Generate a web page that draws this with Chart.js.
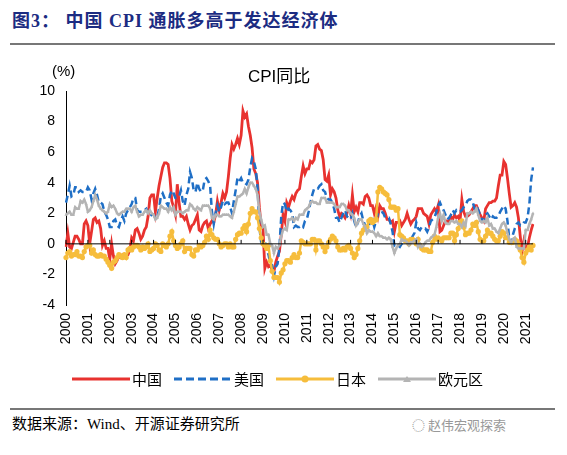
<!DOCTYPE html>
<html><head><meta charset="utf-8">
<script src="https://cdn.jsdelivr.net/npm/chart.js@4"></script>
<style>
body{margin:0;width:567px;height:455px;background:#fff;position:relative;overflow:hidden;font-family:"Liberation Sans",Arial,sans-serif}
#t{position:absolute;left:12px;top:6px;font:bold 18px "Liberation Serif","Noto Sans CJK SC";color:#1c2c82;letter-spacing:1px}
.rule{position:absolute;left:10px;width:545px;height:1.5px;background:#777}
#c{position:absolute;left:0;top:0}
.tx{position:absolute;font-size:15px;color:#000}
#lg{position:absolute;top:368px;left:70px;font:15px "Noto Sans CJK SC";display:flex;align-items:center}
#lg span{margin-right:10px}
#ft{position:absolute;left:12px;top:412px;font:15px "Liberation Serif","Noto Sans CJK SC"}
#wm{position:absolute;left:412px;top:415px;font:13px "Noto Sans CJK SC";color:#999}
</style></head><body>
<div id="t">图3：&nbsp;中国 CPI 通胀多高于发达经济体</div>
<div class="rule" style="top:43px"></div>
<canvas id="c" width="567" height="400" style="width:567px;height:400px"></canvas>
<div class="tx" style="left:52px;top:62px">(%)</div>
<div class="tx" style="left:248px;top:62px;font-size:17px;font-family:'Liberation Sans','Noto Sans CJK SC'">CPI同比</div>
<div id="lg">
<svg width="62" height="10"><line x1="2" y1="5" x2="60" y2="5" stroke="#e8322f" stroke-width="3"/></svg><span>中国</span>
<svg width="62" height="10"><line x1="2" y1="5" x2="60" y2="5" stroke="#1f6fc6" stroke-width="3" stroke-dasharray="8,4"/></svg><span>美国</span>
<svg width="62" height="10"><line x1="2" y1="5" x2="60" y2="5" stroke="#f6bd3c" stroke-width="3"/><circle cx="31" cy="5" r="3.5" fill="#f6bd3c"/></svg><span>日本</span>
<svg width="62" height="10"><line x1="2" y1="5" x2="60" y2="5" stroke="#b4b4b4" stroke-width="3"/><path d="M27 8 L31 2 L35 8Z" fill="#b4b4b4"/></svg><span>欧元区</span>
</div>
<div class="rule" style="top:408px"></div>
<div id="ft">数据来源：Wind、开源证券研究所</div>
<div id="wm">◌ 赵伟宏观探索</div>
<script>
const years=[];for(let y=2000;y<=2021;y++)years.push(String(y));
const china=[-0.2,0.7,-0.2,-0.3,0.1,0.5,0.5,0.3,0,0,1.3,1.5,
1.2,0,0.8,1.6,1.7,1.4,1.5,1,-0.1,0.2,-0.3,-0.3,
-1,0,-0.8,-1.3,-1.1,-0.8,-0.9,-0.7,-0.7,-0.8,-0.7,-0.4,
0.4,0.2,0.9,1,0.7,0.3,0.5,0.9,1.1,1.8,3,3.2,
3.2,2.1,3,3.8,4.4,5,5.3,5.3,5.2,4.3,2.8,2.4,
1.9,3.9,2.7,1.8,1.8,1.6,1.8,1.3,0.9,1.2,1.3,1.6,
1.9,0.9,0.8,1.2,1.4,1.5,1,1.3,1.5,1.4,1.9,2.8,
2.2,2.7,3.3,3,3.4,4.4,5.6,6.5,6.2,6.5,6.9,6.5,
7.1,8.7,8.3,8.5,7.7,7.1,6.3,4.9,4.6,4,2.4,1.2,
1,-1.6,-1.2,-1.5,-1.4,-1.7,-1.8,-1.2,-0.8,-0.5,0.6,1.9,
1.5,2.7,2.4,2.8,3.1,2.9,3.3,3.5,3.6,4.4,5.1,4.6,
4.9,4.9,5.4,5.3,5.5,6.4,6.5,6.2,6.1,5.5,4.2,4.1,
4.5,3.2,3.6,3.4,3,2.2,1.8,2,1.9,1.7,2,2.5,
2,3.2,2.1,2.4,2.1,2.7,2.7,2.6,3.1,3.2,3,2.5,
2.5,2,2.4,1.8,2.5,2.3,2.3,2,1.6,1.6,1.4,1.5,
0.8,1.4,1.4,1.5,1.2,1.4,1.6,2,1.6,1.3,1.5,1.6,
1.8,2.3,2.3,2.3,2,1.9,1.8,1.3,1.9,2.1,2.3,2.1,
2.5,0.8,0.9,1.2,1.5,1.5,1.4,1.8,1.6,1.9,1.7,1.8,
1.5,2.9,2.1,1.8,1.8,1.9,2.1,2.3,2.5,2.5,2.2,1.9,
1.7,1.5,2.3,2.5,2.7,2.7,2.8,2.8,3,3.8,4.5,4.5,
5.4,5.2,4.3,3.3,2.4,2.5,2.7,2.4,1.7,0.5,-0.5,0.2,
-0.3,-0.2,0.4,0.9,1.3];
const usa=[2.7,3.2,3.8,3.1,3.2,3.7,3.7,3.4,3.5,3.4,3.4,3.4,
3.7,3.5,2.9,3.3,3.6,3.2,2.7,2.7,2.6,2.1,1.9,1.6,
1.1,1.1,1.5,1.6,1.2,1.1,1.5,1.8,1.5,2,2.2,2.4,
2.6,3,3,2.2,2.1,2.1,2.1,2.2,2.3,2,1.8,1.9,
1.9,1.7,1.7,2.3,3.1,3.3,3,2.7,2.5,3.2,3.5,3.3,
3,3,3.1,3.5,2.8,2.5,3.2,3.6,4.7,4.3,3.5,3.4,
4,3.6,3.4,3.5,4.2,4.3,4.1,3.8,2.1,1.3,2,2.5,
2.1,2.4,2.8,2.6,2.7,2.7,2.4,2,2.8,3.5,4.3,4.1,
4.3,4,4,3.9,4.2,5,5.6,5.4,4.9,3.7,1.1,0.1,
0,0.2,-0.4,-0.7,-1.3,-1.4,-2.1,-1.5,-1.3,-0.2,1.8,2.7,
2.6,2.1,2.3,2.2,2,1.1,1.2,1.1,1.1,1.2,1.1,1.5,
1.6,2.1,2.7,3.2,3.6,3.6,3.6,3.8,3.9,3.5,3.4,3,
2.9,2.9,2.7,2.3,1.7,1.7,1.4,1.7,2,2.2,1.8,1.7,
1.6,2,1.5,1.1,1.4,1.8,2,1.5,1.2,1,1.2,1.5,
1.6,1.1,1.5,2,2.1,2.1,2,1.7,1.7,1.7,1.3,0.8,
-0.1,0,-0.1,-0.2,0,0.1,0.2,0.2,0,0.2,0.5,0.7,
1.4,1,0.9,1.1,1,1,0.8,1.1,1.5,1.6,1.7,2.1,
2.5,2.7,2.4,2.2,1.9,1.6,1.7,1.9,2.2,2,2.2,2.1,
2.1,2.2,2.4,2.5,2.8,2.9,2.9,2.7,2.3,2.5,2.2,1.9,
1.6,1.5,1.9,2,1.8,1.6,1.8,1.7,1.7,1.8,2.1,2.3,
2.5,2.3,1.5,0.3,0.1,0.6,1,1.3,1.4,1.2,1.2,1.4,
1.4,1.7,2.6,4.2,5];
const japan=[-0.9,-0.6,-0.5,-0.8,-0.7,-0.7,-0.5,-0.8,-0.8,-0.9,-0.5,-0.2,
-0.1,-0.1,-0.6,-0.4,-0.7,-0.8,-0.8,-0.7,-0.8,-0.8,-1,-1.2,
-1.4,-1.6,-1.2,-1.1,-0.9,-0.7,-0.8,-0.9,-0.7,-0.9,-0.4,-0.3,
-0.4,-0.2,-0.1,-0.1,-0.2,-0.4,-0.2,-0.3,-0.2,0,-0.5,-0.4,
-0.3,0,-0.1,-0.4,-0.5,0,-0.1,-0.2,0,0.5,0.8,0.2,
-0.1,-0.3,-0.2,0,0.2,-0.5,-0.3,-0.3,-0.3,-0.7,-0.8,-0.4,
-0.4,-0.1,-0.2,-0.1,0.1,0.5,0.3,0.9,0.6,0.4,0.3,0.3,
0,-0.2,-0.1,0,0,-0.2,0,-0.2,-0.2,0.3,0.6,0.7,
0.7,1,1.2,0.8,1.3,2,2.3,2.1,2.1,1.7,1,0.4,
0,-0.1,-0.3,-0.1,-1.1,-1.8,-2.2,-2.2,-2.2,-2.5,-1.9,-1.7,
-1.3,-1.1,-1.1,-1.2,-0.9,-0.7,-0.9,-0.9,-0.6,0.2,0.1,0,
0,0,0,0.3,0.3,-0.4,0.2,0.2,0,-0.2,-0.5,-0.2,
0.1,0.3,0.5,0.4,0.2,-0.2,-0.4,-0.4,-0.3,-0.4,-0.2,-0.1,
-0.3,-0.6,-0.9,-0.7,-0.3,0.2,0.7,0.9,1.1,1.1,1.5,1.6,
1.4,1.5,1.6,3.4,3.7,3.6,3.4,3.3,3.2,2.9,2.4,2.4,
2.4,2.2,2.3,0.6,0.5,0.4,0.2,0.2,0,0.3,0.3,0.2,
0,0.3,-0.1,-0.3,-0.4,-0.4,-0.4,-0.5,-0.5,0.1,0.5,0.3,
0.4,0.3,0.2,0.4,0.4,0.4,0.4,0.7,0.7,0.2,0.6,1,
1.4,1.5,1.1,0.6,0.7,0.7,0.9,1.3,1.2,1.4,0.8,0.3,
0.2,0.2,0.5,0.9,0.7,0.7,0.5,0.3,0.2,0.2,0.5,0.8,
0.7,0.4,0.4,0.1,0.1,0.1,0.3,0.2,0,-0.4,-0.9,-1.2,
-0.6,-0.4,-0.2,-0.4,-0.1];
const euro=[1.9,2,2.1,1.9,1.9,2.4,2.3,2.3,2.8,2.7,2.9,2.6,
2.1,2.2,2.4,2.8,3.2,2.9,2.5,2.3,2.2,2.1,2,2.1,
2.6,2.4,2.5,2.3,2,1.9,2,2.1,2.1,2.3,2.3,2.3,
2.1,2.4,2.5,2.1,1.8,1.9,1.9,2.1,2.2,2,2.2,2,
1.9,1.6,1.7,2,2.5,2.4,2.3,2.3,2.1,2.4,2.2,2.4,
1.9,2.1,2.1,2.1,2,2.1,2.2,2.2,2.6,2.5,2.3,2.2,
2.4,2.3,2.2,2.5,2.5,2.5,2.5,2.3,1.7,1.6,1.9,1.9,
1.8,1.8,1.9,1.9,1.9,1.9,1.8,1.7,2.1,2.6,3.1,3.1,
3.2,3.3,3.6,3.3,3.7,4,4,3.8,3.6,3.2,2.1,1.6,
1.1,1.2,0.6,0.6,0,-0.1,-0.6,-0.2,-0.3,-0.1,0.5,0.9,
1,0.9,1.6,1.6,1.7,1.5,1.7,1.6,1.9,1.9,1.9,2.2,
2.3,2.4,2.7,2.8,2.7,2.7,2.6,2.6,3,3,3,2.7,
2.7,2.7,2.7,2.6,2.4,2.4,2.4,2.6,2.6,2.5,2.2,2.2,
2,1.9,1.7,1.2,1.4,1.6,1.6,1.3,1.1,0.7,0.9,0.8,
0.8,0.7,0.5,0.7,0.5,0.5,0.4,0.4,0.3,0.4,0.3,-0.2,
-0.6,-0.3,-0.1,0,0.3,0.2,0.2,0.1,-0.1,0.1,0.1,0.2,
0.3,-0.2,0,-0.2,-0.1,0.1,0.2,0.2,0.4,0.5,0.6,1.1,
1.7,2,1.5,1.9,1.4,1.3,1.3,1.5,1.5,1.4,1.5,1.3,
1.3,1.1,1.4,1.2,2,2,2.1,2,2.1,2.3,1.9,1.5,
1.4,1.5,1.4,1.7,1.2,1.3,1,1,0.8,0.7,1,1.3,
1.4,1.2,0.7,0.3,0.1,0.3,0.4,-0.2,-0.3,-0.3,-0.3,-0.3,
0.9,0.9,1.3,1.6,2];
const labels=china.map((_,i)=>years[Math.floor(i/12)]+'-'+String(i%12+1).padStart(2,'0'));
const zeroAxis={id:'z',afterDatasetsDraw(c){const x=c.scales.x,y=c.scales.y,ctx=c.ctx;const y0=y.getPixelForValue(0);
ctx.save();ctx.strokeStyle='#000';ctx.lineWidth=1;ctx.beginPath();ctx.moveTo(c.chartArea.left,y0);ctx.lineTo(c.chartArea.right,y0);
labels.forEach((l,i)=>{if(i%12===0){const px=x.getPixelForValue(i);ctx.moveTo(px,y0);ctx.lineTo(px,y0-4);}});ctx.stroke();ctx.restore();}};
const font={family:'"Liberation Sans",Arial',size:14};
new Chart(document.getElementById('c'),{type:'line',
data:{labels,datasets:[
{data:euro,borderColor:'#b4b4b4',backgroundColor:'#b4b4b4',borderWidth:2.5,pointStyle:'triangle',pointRadius:1.8,pointBorderWidth:0},
{data:japan,borderColor:'#f6bd3c',backgroundColor:'#f6bd3c',borderWidth:2.5,pointRadius:2.6,pointBorderWidth:0},
{data:usa,borderColor:'#1f6fc6',borderWidth:2.5,borderDash:[7,4],pointRadius:0},
{data:china,borderColor:'#e8322f',borderWidth:2.8,pointRadius:0}]},
options:{responsive:false,animation:false,events:[],
layout:{padding:{left:26,right:34,top:91,bottom:0}},
plugins:{legend:{display:false},tooltip:{enabled:false}},
scales:{
x:{offset:false,grid:{display:false,drawTicks:false},border:{display:false},
ticks:{autoSkip:false,maxRotation:90,minRotation:90,color:'#000',font,padding:8,callback:(v,i)=>i%12===0?labels[i].slice(0,4):null},
afterFit:s=>{s.height=95}},
y:{min:-4,max:10,grid:{display:false,drawTicks:true,tickLength:5},border:{color:'#000'},
ticks:{stepSize:2,color:'#000',font,padding:6},afterFit:s=>{s.width=40}}}},
plugins:[zeroAxis]});
</script></body></html>
